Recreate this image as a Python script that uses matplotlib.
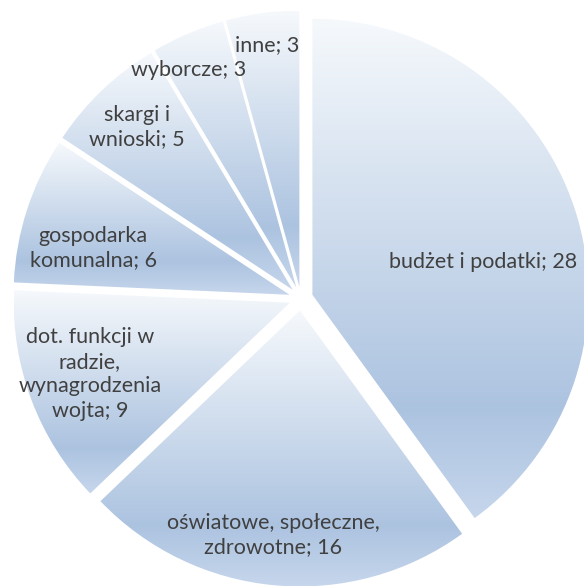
import textwrap
import numpy as np
import matplotlib
matplotlib.use("Agg")
import matplotlib.pyplot as plt

# ---- data ----
categories = ["budżet i podatki", "oświatowe, społeczne, zdrowotne",
              "dot. funkcji w radzie, wynagrodzenia wojta",
              "gospodarka komunalna", "skargi i wnioski", "wyborcze", "inne"]
values = [28, 16, 9, 6, 5, 3, 3]

# ---- layout (image pixel coords, y from top) ----
W, H = 584, 586
CX, CY, R = 301, 298.5, 276
EXPLODE = 12
label_pos = [(483, 262), (273, 535), (90, 374), (93, 248), (137, 127), (189, 70), (267, 45)]
label_wrap = [40, 22, 14, 13, 10, 40, 40]

fig = plt.figure(figsize=(W / 100, H / 100), dpi=100)
ax = fig.add_axes([0, 0, 1, 1])
ax.set_axis_off()

wedges, _ = ax.pie(values, startangle=90, counterclock=False,
                   radius=R, center=(CX, H - CY),
                   explode=[EXPLODE] * len(values),
                   wedgeprops=dict(edgecolor="none", linewidth=0))

# vertical gradient, light at top, darker near bottom, slightly lighter at very bottom
stops = [(0.0, (246, 249, 252)), (0.78, (172, 195, 224)), (1.0, (198, 214, 236))]
n = 256
t = np.linspace(0, 1, n)
cols = np.zeros((n, 3))
for c in range(3):
    cols[:, c] = np.interp(t, [s[0] for s in stops], [s[1][c] for s in stops]) / 255.0
grad = cols.reshape(n, 1, 3)

for w in wedges:
    ext = w.get_path().get_extents()
    im = ax.imshow(grad, extent=[ext.x0, ext.x1, ext.y0, ext.y1], origin="upper",
                   aspect="auto", interpolation="bilinear", zorder=1)
    im.set_clip_path(w)
    w.set_facecolor("none")

for cat, val, (x, y), wrap in zip(categories, values, label_pos, label_wrap):
    txt = textwrap.fill(f"{cat}; {val}", width=wrap)
    ax.text(x, H - y, txt, ha="center", va="center", fontsize=15.5,
            family=["Lato", "DejaVu Sans"], color="#404040", linespacing=1.3, zorder=3)

ax.set_xlim(0, W)
ax.set_ylim(0, H)
fig.savefig("out.png", dpi=100, facecolor="white")
